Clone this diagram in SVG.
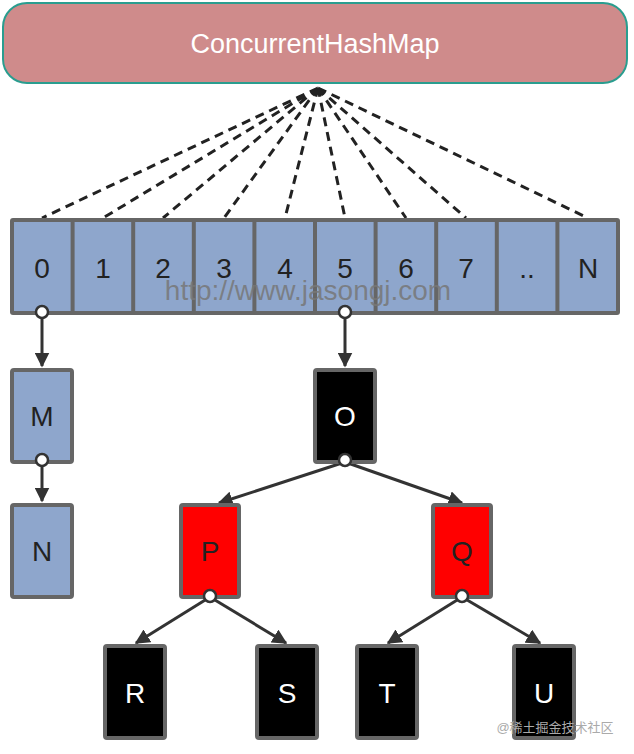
<svg xmlns="http://www.w3.org/2000/svg" width="634" height="754" viewBox="0 0 634 754">
<defs>
<style>
text{font-family:"Liberation Sans",Arial,sans-serif;text-anchor:middle}
.cell{fill:#8ea6cc}
.bx{stroke:#666;stroke-width:4}
.blue{fill:#8ea6cc}
.blk{fill:#000}
.red{fill:#ff0000}
.lbl{font-size:28px;fill:#222}
.wl{font-size:28px;fill:#fff}
.dash{stroke:#222;stroke-width:3;stroke-dasharray:9,6;fill:none}
.arr{stroke:#333;stroke-width:3;fill:none;marker-end:url(#ah)}
.dot{fill:#fff;stroke:#333;stroke-width:2.5}
</style>
<marker id="ah" viewBox="0 0 10 10" refX="9" refY="5" markerWidth="5" markerHeight="5" orient="auto"><path d="M0,0L10,5L0,10z" fill="#333"/></marker>
</defs>
<g id="title"><rect x="3" y="3" width="624" height="80" rx="24" fill="#cf8b8b" stroke="#2a9d8f" stroke-width="2"/><text x="315" y="53" font-size="27" fill="#fff">ConcurrentHashMap</text></g>
<g id="connectors">
<path class="dash" d="M318,88L42,218M318,88L103,218M318,88L163,218M318,88L224,218M318,88L285,218M318,88L345,218M318,88L406,218M318,88L466,218M318,88L588,218"/>
<path class="arr" d="M42,318L42,366"/>
<path class="arr" d="M42,462L42,501"/>
<path class="arr" d="M345,318L345,366"/>
<path class="arr" d="M345,462L219,503"/>
<path class="arr" d="M345,462L462,503"/>
<path class="arr" d="M210,597L136,643"/>
<path class="arr" d="M210,597L286,643"/>
<path class="arr" d="M462,597L388,643"/>
<path class="arr" d="M462,597L540,643"/>
</g>
<g id="array">
<rect x="10" y="218" width="610" height="97" rx="3" fill="#666"/>
<rect class="cell" x="14" y="222" width="56.6" height="89"/>
<rect class="cell" x="74.6" y="222" width="56.6" height="89"/>
<rect class="cell" x="135.2" y="222" width="56.6" height="89"/>
<rect class="cell" x="195.8" y="222" width="56.6" height="89"/>
<rect class="cell" x="256.4" y="222" width="56.6" height="89"/>
<rect class="cell" x="317" y="222" width="56.6" height="89"/>
<rect class="cell" x="377.6" y="222" width="56.6" height="89"/>
<rect class="cell" x="438.2" y="222" width="56.6" height="89"/>
<rect class="cell" x="498.8" y="222" width="56.6" height="89"/>
<rect class="cell" x="559.4" y="222" width="56.6" height="89"/>
<text class="lbl" x="42" y="278">0</text><text class="lbl" x="103" y="278">1</text><text class="lbl" x="163" y="278">2</text><text class="lbl" x="224" y="278">3</text><text class="lbl" x="285" y="278">4</text><text class="lbl" x="345" y="278">5</text><text class="lbl" x="406" y="278">6</text><text class="lbl" x="466" y="278">7</text><text class="lbl" x="527" y="278">..</text><text class="lbl" x="588" y="278">N</text>
</g>
<g id="M"><rect class="bx blue" x="12" y="370" width="60" height="92" rx="2"/><text class="lbl" x="42" y="426">M</text></g>
<g id="N"><rect class="bx blue" x="12" y="505" width="60" height="92" rx="2"/><text class="lbl" x="42" y="561">N</text></g>
<g id="O"><rect class="bx blk" x="315" y="370" width="60" height="92" rx="2"/><text class="wl" x="345" y="426">O</text></g>
<g id="P"><rect class="bx red" x="181" y="505" width="58" height="92" rx="2"/><text class="lbl" x="210" y="561">P</text></g>
<g id="Q"><rect class="bx red" x="433" y="505" width="58" height="92" rx="2"/><text class="lbl" x="462" y="561">Q</text></g>
<g id="R"><rect class="bx blk" x="105" y="646" width="60" height="92" rx="2"/><text class="wl" x="135" y="703">R</text></g>
<g id="S"><rect class="bx blk" x="257" y="646" width="60" height="92" rx="2"/><text class="wl" x="287" y="703">S</text></g>
<g id="T"><rect class="bx blk" x="357" y="646" width="60" height="92" rx="2"/><text class="wl" x="387" y="703">T</text></g>
<g id="U"><rect class="bx blk" x="514" y="646" width="60" height="92" rx="2"/><text class="wl" x="544" y="703">U</text></g>
<g id="dots">
<circle class="dot" cx="42" cy="312" r="6"/><circle class="dot" cx="345" cy="312" r="6"/>
<circle class="dot" cx="42" cy="460" r="6"/><circle class="dot" cx="345" cy="460" r="6"/>
<circle class="dot" cx="210" cy="596" r="6"/><circle class="dot" cx="462" cy="596" r="6"/>
</g>
<text x="308" y="300" font-size="28" fill="#777" fill-opacity="0.85">http://www.jasongj.com</text>
<text x="555" y="732" font-size="13" fill="#aaa" style="font-family:'Liberation Sans','Noto Sans CJK SC',sans-serif">@稀土掘金技术社区</text>
</svg>
